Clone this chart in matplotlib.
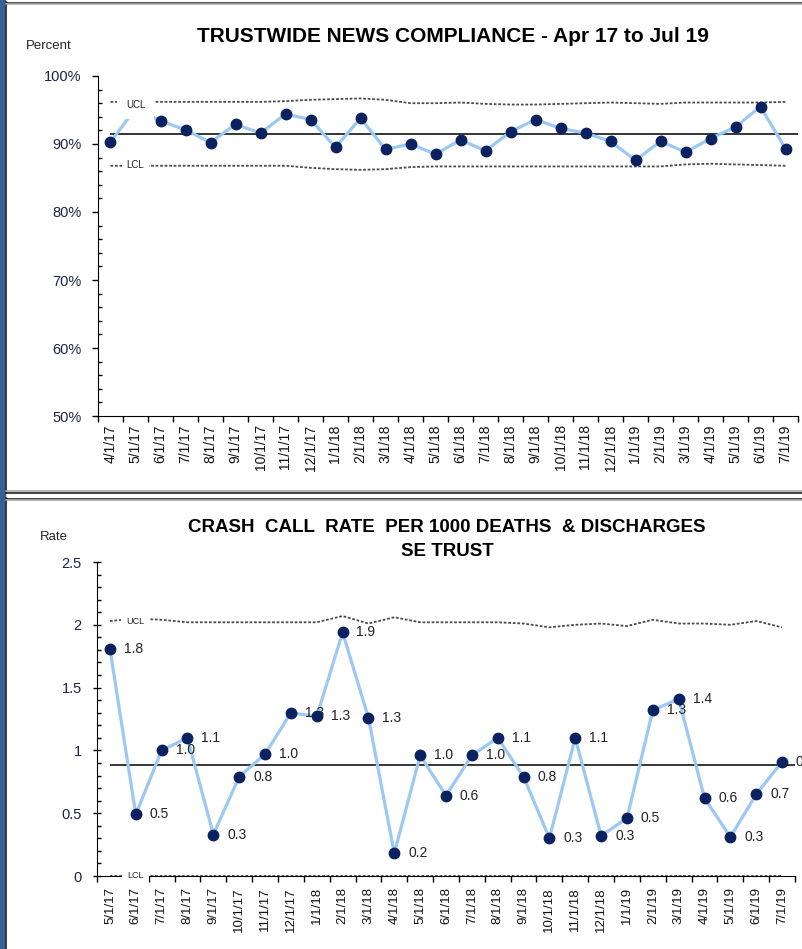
import matplotlib.pyplot as plt
from matplotlib.lines import Line2D
from matplotlib.patches import Rectangle

plt.rcParams['font.family'] = ['Liberation Sans', 'DejaVu Sans']

# NEWS compliance (%), Apr 17 - Jul 19
news_months = ['4/1/17', '5/1/17', '6/1/17', '7/1/17', '8/1/17', '9/1/17', '10/1/17',
               '11/1/17', '12/1/17', '1/1/18', '2/1/18', '3/1/18', '4/1/18', '5/1/18',
               '6/1/18', '7/1/18', '8/1/18', '9/1/18', '10/1/18', '11/1/18', '12/1/18',
               '1/1/19', '2/1/19', '3/1/19', '4/1/19', '5/1/19', '6/1/19', '7/1/19']
news_pct = [90.3, 95.2, 93.4, 92.1, 90.2, 92.9, 91.6, 94.4, 93.6, 89.5, 93.8, 89.2, 90.0, 88.5,
            90.6, 89.0, 91.8, 93.6, 92.3, 91.6, 90.4, 87.6, 90.4, 88.8, 90.8, 92.5, 95.5, 89.3]
news_mean = 91.4
news_ucl = [96.2, 96.2, 96.2, 96.2, 96.2, 96.2, 96.2, 96.3, 96.5, 96.6, 96.7, 96.5, 96.0, 96.0,
            96.1, 95.9, 95.8, 95.8, 95.9, 96.0, 96.1, 96.0, 95.9, 96.1, 96.1, 96.1, 96.1, 96.2]
news_lcl = [86.8, 86.8, 86.8, 86.8, 86.8, 86.8, 86.8, 86.8, 86.5, 86.3, 86.2, 86.3, 86.6, 86.7,
            86.7, 86.7, 86.7, 86.7, 86.7, 86.7, 86.7, 86.7, 86.7, 87.0, 87.1, 87.0, 86.9, 86.8]
pct_ticks = [50, 60, 70, 80, 90, 100]

# crash calls per 1000 deaths & discharges, May 17 - Jul 19
crash_months = ['5/1/17', '6/1/17', '7/1/17', '8/1/17', '9/1/17', '10/1/17', '11/1/17',
                '12/1/17', '1/1/18', '2/1/18', '3/1/18', '4/1/18', '5/1/18', '6/1/18',
                '7/1/18', '8/1/18', '9/1/18', '10/1/18', '11/1/18', '12/1/18', '1/1/19',
                '2/1/19', '3/1/19', '4/1/19', '5/1/19', '6/1/19', '7/1/19']
crash_rate = [1.81, 0.49, 1.00, 1.10, 0.33, 0.79, 0.97, 1.30, 1.27, 1.94, 1.26, 0.18, 0.96, 0.64,
              0.96, 1.10, 0.79, 0.30, 1.10, 0.32, 0.46, 1.32, 1.41, 0.62, 0.31, 0.65, 0.91]
crash_mean = 0.886
crash_ucl = [2.03, 2.05, 2.04, 2.02, 2.02, 2.02, 2.02, 2.02, 2.02, 2.07, 2.01, 2.06, 2.02, 2.02,
             2.02, 2.02, 2.01, 1.98, 2.00, 2.01, 1.99, 2.04, 2.01, 2.01, 2.00, 2.03, 1.98]
crash_lcl = [0.0] * len(crash_rate)
rate_ticks = [0, 0.5, 1, 1.5, 2, 2.5]
rate_tick_labels = ['0', '0.5', '1', '1.5', '2', '2.5']

W, H = 803, 949
LINE = '#9cc8f4'
DOT = '#0b2160'
LIMIT = '#4a4a4a'


def fx(x):
    return x / W


def fy(y):
    return 1 - y / H


def spc_panel(ax, vals, mean, ucl, lcl, labels, lab_size, lab_pad):
    n = len(vals)
    xs = list(range(n))
    ax.plot(xs, ucl, color=LIMIT, lw=1.3, ls=(0, (1.5, 1)), zorder=1)
    ax.plot(xs, lcl, color=LIMIT, lw=1.3, ls=(0, (1.5, 1)), zorder=1)
    ax.hlines(mean, 0, n - 0.5, color='black', lw=1.1, zorder=1.5)
    ax.plot(xs, vals, color=LINE, lw=2.3, zorder=2)
    ax.plot(xs, vals, ls='none', marker='o', ms=7.5, color=DOT, zorder=3)
    ax.set_xlim(-0.5, n - 0.5)
    for s in ('top', 'right'):
        ax.spines[s].set_visible(False)
    ax.set_xticks(xs)
    ax.set_xticklabels(labels, rotation=90, fontsize=lab_size, color='#111111')
    ax.set_xticks([i - 0.5 for i in range(n + 1)], minor=True)
    ax.tick_params(axis='x', which='major', length=0, pad=lab_pad)
    ax.tick_params(axis='x', which='minor', length=4, width=1, direction='out')
    ax.tick_params(axis='y', labelsize=10.5, labelcolor='#1c2447')
    ax.patch.set_visible(False)


fig = plt.figure(figsize=(W / 100, H / 100), dpi=100)

# panel frames
fig.add_artist(Rectangle((0, 0), fx(5), 1, color='#34609a', transform=fig.transFigure))
for y0, y1 in ((2, 493), (498, 949)):
    fig.add_artist(Line2D([fx(6.5), fx(6.5)], [fy(y0), fy(y1)], color='#333333', lw=1.3))
for y, c in ((2.5, '#333333'), (4, '#aaaaaa'), (491, '#aaaaaa'), (492.5, '#222222'),
             (498.5, '#222222'), (500, '#aaaaaa')):
    fig.add_artist(Line2D([fx(6.5), 1], [fy(y), fy(y)], color=c, lw=1.2))

# NEWS compliance
ax1 = fig.add_axes([fx(98), fy(416), fx(700), (416 - 76) / H])
spc_panel(ax1, news_pct, news_mean, news_ucl, news_lcl, news_months, 10, 6)
ax1.set_ylim(50, 100)
ax1.set_yticks(pct_ticks)
ax1.set_yticklabels([f'{t}%' for t in pct_ticks])
ax1.set_yticks(range(50, 101, 2), minor=True)
ax1.tick_params(axis='y', which='major', direction='out', length=4, width=1, pad=8)
ax1.tick_params(axis='y', which='minor', direction='in', length=3, width=1)
box = dict(boxstyle='square,pad=0.95', fc='white', ec='none')
ax1.text(1, news_ucl[1] - 0.45, 'UCL', fontsize=7, ha='center', va='center', color='#222222',
         bbox=box, zorder=5)
ax1.text(1, news_lcl[1] + 0.1, 'LCL', fontsize=7, ha='center', va='center', color='#222222',
         bbox=dict(boxstyle='square,pad=0.5', fc='white', ec='none'), zorder=5)
fig.text(fx(453), fy(37), 'TRUSTWIDE NEWS COMPLIANCE - Apr 17 to Jul 19', fontsize=15,
         fontweight='bold', ha='center', va='center')
fig.text(fx(26), fy(46), 'Percent', fontsize=9.5, ha='left', va='center', color='#222222')

# crash call rate
ax2 = fig.add_axes([fx(97), fy(876), fx(698), (876 - 562) / H])
spc_panel(ax2, crash_rate, crash_mean, crash_ucl, crash_lcl, crash_months, 9.5, 8)
ax2.set_ylim(0, 2.5)
ax2.set_yticks(rate_ticks)
ax2.set_yticklabels(rate_tick_labels)
ax2.set_yticks([i / 10 for i in range(26)], minor=True)
ax2.tick_params(axis='y', which='major', direction='inout', length=6, width=1, pad=8)
ax2.tick_params(axis='y', which='minor', direction='in', length=3, width=1)
for i, v in enumerate(crash_rate):
    ax2.annotate(f'{v:.1f}', (i, v), xytext=(10, 0), textcoords='offset points',
                 fontsize=10, ha='left', va='center', color='#222222', zorder=2.5)
small_box = dict(boxstyle='square,pad=0.6', fc='white', ec='none')
ax2.text(1, crash_ucl[1] - 0.02, 'UCL', fontsize=6.5, ha='center', va='center',
         color='#222222', bbox=small_box, zorder=5)
ax2.text(1, crash_lcl[1], 'LCL', fontsize=6.5, ha='center', va='center', color='#222222',
         bbox=small_box, zorder=5, clip_on=False)
fig.text(fx(447), fy(528), 'CRASH  CALL  RATE  PER 1000 DEATHS  & DISCHARGES', fontsize=13.5,
         fontweight='bold', ha='center', va='center')
fig.text(fx(447), fy(551), 'SE TRUST', fontsize=13.5, fontweight='bold', ha='center',
         va='center')
fig.text(fx(40), fy(537), 'Rate', fontsize=9.5, ha='left', va='center', color='#222222')

fig.savefig('out.png', dpi=100)
